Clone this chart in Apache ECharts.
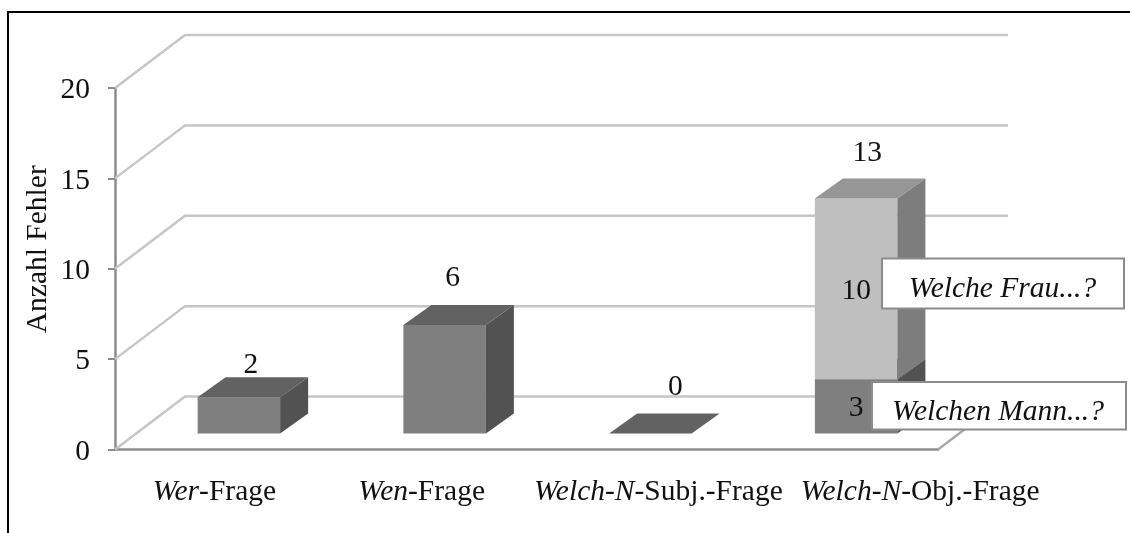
<!DOCTYPE html>
<html>
<head>
<meta charset="utf-8">
<style>html,body{margin:0;padding:0;background:#fff}#c{width:1130px;height:533px}</style>
<script src="https://cdn.jsdelivr.net/npm/echarts@6/dist/echarts.min.js"></script>
</head>
<body>
<div id="c"></div>
<script>
const categories = ['Wer-Frage', 'Wen-Frage', 'Welch-N-Subj.-Frage', 'Welch-N-Obj.-Frage'];
const italicParts = ['Wer', 'Wen', 'Welch-N', 'Welch-N'];
const lowerValues = [2, 6, 0, 3];
const upperValues = [0, 0, 0, 10];
const totals = [2, 6, 0, 13];
const segmentLabels = [[3, 3, 1.5], [3, 10, 8]];
const yTicks = [0, 5, 10, 15, 20];
const yName = 'Anzahl Fehler';
const callouts = ['Welche Frau...?', 'Welchen Mann...?'];

const FONT = '"Liberation Serif","Times New Roman",serif';
const FS = 29.5;
const BACK = {dx: 70, dy: -53};
const BASE = {dx: 21, dy: -16};
const DEPTH = {dx: 28, dy: -20};
const BAR_W = 82.5;
const GRID_C = '#c6c6c6', AXIS_C = '#8c8c8c';
const totalNudge = [[12, -12], [8, -27], [25, -26], [11, -25]];
const labelShift = [-7, -4, 58, 170];

const chart = echarts.init(document.getElementById('c'), null, {renderer: 'canvas'});

function poly(points, fill) {
  return {type: 'polygon', shape: {points}, style: {fill, stroke: null}};
}
function barItem(colors) {
  return function (params, api) {
    const i = api.value(0);
    const b = api.coord([i, api.value(1)]);
    const t = api.coord([i, api.value(2)]);
    const x0 = b[0] + BASE.dx - BAR_W / 2, x1 = x0 + BAR_W;
    const y0 = b[1] + BASE.dy, y1 = t[1] + BASE.dy;
    const d = DEPTH;
    return {type: 'group', children: [
      poly([[x0, y0], [x1, y0], [x1, y1], [x0, y1]], colors.front),
      poly([[x1, y0], [x1 + d.dx, y0 + d.dy], [x1 + d.dx, y1 + d.dy], [x1, y1]], colors.side),
      poly([[x0, y1], [x1, y1], [x1 + d.dx, y1 + d.dy], [x0 + d.dx, y1 + d.dy]], colors.top)
    ]};
  };
}
function textEl(x, y, text, style) {
  return {type: 'text', x, y, style: Object.assign({text: String(text), font: FS + 'px ' + FONT, fill: '#111',
    align: 'center', verticalAlign: 'middle'}, style || {})};
}

const rich = {
  i: {fontFamily: FONT, fontSize: FS, fontStyle: 'italic', color: '#111'},
  r: {fontFamily: FONT, fontSize: FS, color: '#111'}
};
labelShift.forEach((w, i) => { rich['s' + i] = {width: Math.abs(w), fontSize: FS, fontFamily: FONT}; });

const option = {
  animation: false,
  backgroundColor: '#fff',
  tooltip: {show: false},
  grid: {left: 115, top: 88, width: 823, height: 361.5},
  xAxis: {
    type: 'category', data: categories, boundaryGap: true,
    axisLine: {lineStyle: {color: AXIS_C, width: 2.5}},
    axisTick: {show: false},
    axisLabel: {
      interval: 0, margin: 28, hideOverlap: false,
      formatter: function (v, i) {
        const it = italicParts[i], rest = v.slice(it.length), sp = '{s' + i + '|\u00a0}';
        const body = '{i|' + it + '}{r|' + rest + '}';
        return labelShift[i] > 0 ? sp + body : body + sp;
      },
      rich
    }
  },
  yAxis: {
    type: 'value', min: yTicks[0], max: yTicks[yTicks.length - 1], interval: yTicks[1] - yTicks[0],
    name: yName, nameLocation: 'middle', nameRotate: 90, nameGap: 62, nameMoveOverlap: false,
    nameTextStyle: {fontFamily: FONT, fontSize: FS, color: '#111', padding: [0, 0, 0, 39]},
    axisLine: {show: true, lineStyle: {color: AXIS_C, width: 2.5}},
    axisTick: {show: true, length: 7, lineStyle: {color: AXIS_C, width: 2}},
    axisLabel: {margin: 25, formatter: '{n|{value}}',
      rich: {n: {fontFamily: FONT, fontSize: FS, color: '#111', padding: [5, 0, 0, 0]}}},
    splitLine: {show: false}
  },
  series: [
    {
      type: 'custom', name: 'grid', z: 1, silent: true, clip: false,
      data: yTicks.map(v => [0, v]),
      encode: {x: 0, y: 1},
      renderItem: function (params, api) {
        const p = api.coord([0, api.value(1)]);
        const left = params.coordSys.x, right = left + params.coordSys.width;
        const y = p[1], children = [{
          type: 'polyline',
          shape: {points: [[left, y], [left + BACK.dx, y + BACK.dy], [right + BACK.dx, y + BACK.dy]]},
          style: {stroke: GRID_C, lineWidth: 2.5, fill: null}
        }];
        if (api.value(1) === 0) {
          children.push({type: 'line', shape: {x1: right, y1: y, x2: right + BACK.dx, y2: y + BACK.dy},
            style: {stroke: '#a8a8a8', lineWidth: 2.5}});
        }
        return {type: 'group', children};
      }
    },
    {
      type: 'custom', name: 'Welchen Mann', z: 2, silent: true, clip: false,
      data: lowerValues.map((v, i) => [i, 0, v]), encode: {x: 0, y: 2},
      renderItem: barItem({front: '#7f7f7f', side: '#525252', top: '#626262'})
    },
    {
      type: 'custom', name: 'Welche Frau', z: 3, silent: true, clip: false,
      data: upperValues.map((v, i) => [i, lowerValues[i], lowerValues[i] + v]).filter(d => d[2] > d[1]),
      encode: {x: 0, y: 2},
      renderItem: barItem({front: '#bfbfbf', side: '#7d7d7d', top: '#969696'})
    },
    {
      type: 'custom', name: 'totals', z: 4, silent: true, clip: false,
      data: totals.map((v, i) => [i, v]), encode: {x: 0, y: 1},
      renderItem: function (params, api) {
        const i = api.value(0), p = api.coord([i, api.value(1)]);
        const n = totalNudge[i];
        return textEl(p[0] + BASE.dx + n[0], p[1] + BASE.dy + DEPTH.dy + n[1], api.value(1));
      }
    },
    {
      type: 'custom', name: 'segments', z: 4, silent: true, clip: false,
      data: segmentLabels, encode: {x: 0, y: 2},
      renderItem: function (params, api) {
        const p = api.coord([api.value(0), api.value(2)]);
        return textEl(p[0] + BASE.dx, p[1] + BASE.dy + 2, api.value(1));
      }
    }
  ],
  graphic: [
    {type: 'polyline', z: 0, silent: true, shape: {points: [[8, 533], [8, 12], [1130, 12]]},
      style: {stroke: '#000', lineWidth: 2, fill: null}},
    {type: 'rect', z: 50, silent: true, shape: {x: 882, y: 258.5, width: 242, height: 50},
      style: {fill: '#fff', stroke: AXIS_C, lineWidth: 2}},
    {type: 'text', z: 51, silent: true, x: 1002.5, y: 289, style: {text: callouts[0], font: 'italic ' + FS + 'px ' + FONT,
      fill: '#111', align: 'center', verticalAlign: 'middle'}},
    {type: 'rect', z: 50, silent: true, shape: {x: 872, y: 382, width: 254, height: 47.5},
      style: {fill: '#fff', stroke: AXIS_C, lineWidth: 2}},
    {type: 'text', z: 51, silent: true, x: 998, y: 412.5, style: {text: callouts[1], font: 'italic ' + FS + 'px ' + FONT,
      fill: '#111', align: 'center', verticalAlign: 'middle'}}
  ]
};
chart.setOption(option);
</script>
</body>
</html>
